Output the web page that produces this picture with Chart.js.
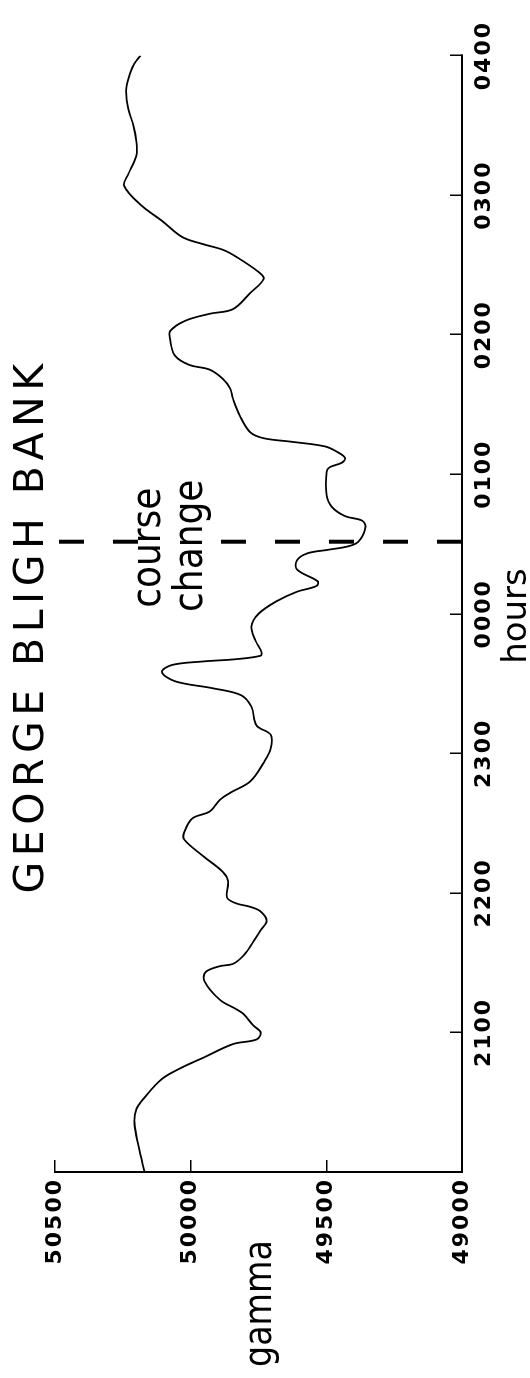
<!DOCTYPE html>
<html>
<head>
<meta charset="utf-8">
<script src="https://cdn.jsdelivr.net/npm/chart.js@4.4.1/dist/chart.umd.min.js"></script>
<style>
html, body { margin: 0; padding: 0; background: #fff; overflow: hidden; }
#wrap { position: absolute; left: 0; top: 0; width: 1378px; height: 530px;
        transform-origin: 0 0; transform: translate(0, 1378px) rotate(-90deg); }
</style>
</head>
<body>
<div id="wrap"><canvas id="magChart" width="1378" height="530"></canvas></div>
<script>
// minutes after 2000 hours
var minutes = [0, 11, 21, 27, 32, 40, 45, 49, 55, 57, 60, 63, 68, 70, 74, 82, 86, 88.5, 89.5, 93,
  99, 104, 108, 112, 114, 115.5, 118, 125, 129, 136, 143, 146, 152, 155, 160, 163, 168, 176, 182, 188,
  192, 200, 205, 208, 211, 215, 218, 219.5, 220.5, 222, 223.5, 228.5, 234.5, 240, 245.5, 249.5, 252, 254, 259, 263,
  266, 267.5, 269, 271, 277, 280, 282, 286, 291, 301, 303, 305, 307, 309.5, 312, 314, 315.5, 318, 325, 332.5,
  337, 341, 345, 347, 351, 358, 361.5, 366, 369, 371, 378, 384, 387, 393.5, 396.5, 399, 402, 409, 415.5, 424,
  429, 437, 443, 450, 457, 465, 471.5, 476.5, 480];
var gamma = [50170, 50192, 50207, 50200, 50170, 50106, 50031, 49956, 49844, 49757, 49742, 49769, 49806, 49832, 49892, 49949, 49945, 49892, 49844, 49806,
  49769, 49742, 49720, 49742, 49780, 49832, 49866, 49862, 49881, 49956, 50024, 50024, 49994, 49930, 49892, 49855, 49780, 49731, 49705, 49705,
  49757, 49776, 49814, 49919, 50058, 50106, 50069, 49956, 49832, 49742, 49739, 49761, 49776, 49750, 49682, 49608, 49536, 49532, 49608, 49608,
  49570, 49495, 49420, 49382, 49356, 49367, 49431, 49480, 49499, 49499, 49488, 49442, 49431, 49458, 49506, 49630, 49731, 49780, 49818, 49844,
  49855, 49881, 49930, 50005, 50058, 50076, 50076, 50020, 49930, 49844, 49780, 49731, 49750, 49832, 49881, 49956, 50031, 50106, 50181, 50245,
  50230, 50200, 50200, 50211, 50230, 50238, 50226, 50208, 50185];
var hourLabels = ['', '2100', '2200', '2300', '0000', '0100', '0200', '0300', '0400'];
var courseMinute = 271;
var titleText = 'GEORGE BLIGH BANK';

Chart.defaults.font.family = 'DejaVu Sans';
Chart.defaults.font.size = 22;
Chart.defaults.color = '#000';

// wide lettering like the original drawing
var spacing = {
  id: 'spacing',
  beforeLayout: function(chart) { chart.ctx.letterSpacing = '2px'; },
  beforeDraw: function(chart) { chart.ctx.letterSpacing = '2px'; }
};

var notes = {
  id: 'notes',
  afterDraw: function(chart) {
    var c = chart.ctx;
    var cx = chart.scales.x.getPixelForValue(courseMinute);
    c.save();
    c.fillStyle = '#000';
    c.textBaseline = 'alphabetic';
    c.textAlign = 'center';
    c.font = '41px "DejaVu Sans"';
    c.letterSpacing = '5.5px';
    c.fillText(titleText, 752, 43);

    c.letterSpacing = '0px';
    c.textAlign = 'left';
    c.font = '37px "DejaVu Sans Condensed", "DejaVu Sans"';
    c.fillText('gamma', 11, 271);

    c.textAlign = 'center';
    c.font = '34px "DejaVu Sans"';
    c.fillText('hours', 762, 526);

    // gap in the dashed line for the note
    c.fillStyle = '#fff';
    c.fillRect(cx - 6, 140, 12, 72);
    c.fillStyle = '#000';
    c.font = '40px "DejaVu Sans Condensed", "DejaVu Sans"';
    c.fillText('course', cx - 6, 160);
    c.fillText('change', cx - 4, 202);
    c.restore();
  }
};

var ctx = document.getElementById('magChart');
new Chart(ctx, {
  type: 'line',
  data: {
    datasets: [{
      label: 'gamma',
      data: minutes.map(function(m, i) { return { x: m, y: gamma[i] }; }),
      borderColor: '#000',
      borderWidth: 1.8,
      pointRadius: 0,
      tension: 0.35,
      fill: false
    }, {
      label: 'course change',
      data: [{ x: courseMinute, y: 49000 }, { x: courseMinute, y: 50500 }],
      borderColor: '#000',
      borderWidth: 4,
      borderDash: [25, 29],
      pointRadius: 0,
      fill: false
    }]
  },
  options: {
    responsive: false,
    animation: false,
    devicePixelRatio: 1,
    layout: { padding: { left: 0, right: 46, top: 55, bottom: 0 } },
    plugins: { legend: { display: false }, title: { display: false }, tooltip: { enabled: false } },
    scales: {
      x: {
        type: 'linear', min: 0, max: 480,
        afterFit: function(s) { s.height = 68; },
        ticks: {
          stepSize: 60, autoSkip: false, maxRotation: 0, padding: 21, color: '#000',
          font: { family: 'DejaVu Sans', size: 22, weight: 'bold' },
          callback: function(v) { return hourLabels[Math.round(v / 60)]; }
        },
        grid: { drawOnChartArea: false, tickLength: -12, color: '#000', lineWidth: 1.5 },
        border: { color: '#000', width: 2 }
      },
      y: {
        min: 49000, max: 50500,
        afterFit: function(s) { s.width = 206; },
        ticks: {
          stepSize: 500, padding: 18, color: '#000',
          font: { family: 'DejaVu Sans', size: 22, weight: 'bold' },
          callback: function(v) { return String(v); }
        },
        grid: { drawOnChartArea: false, tickLength: -12, color: '#000', lineWidth: 1.5 },
        border: { color: '#000', width: 2 }
      }
    }
  },
  plugins: [spacing, notes]
});
</script>
</body>
</html>
